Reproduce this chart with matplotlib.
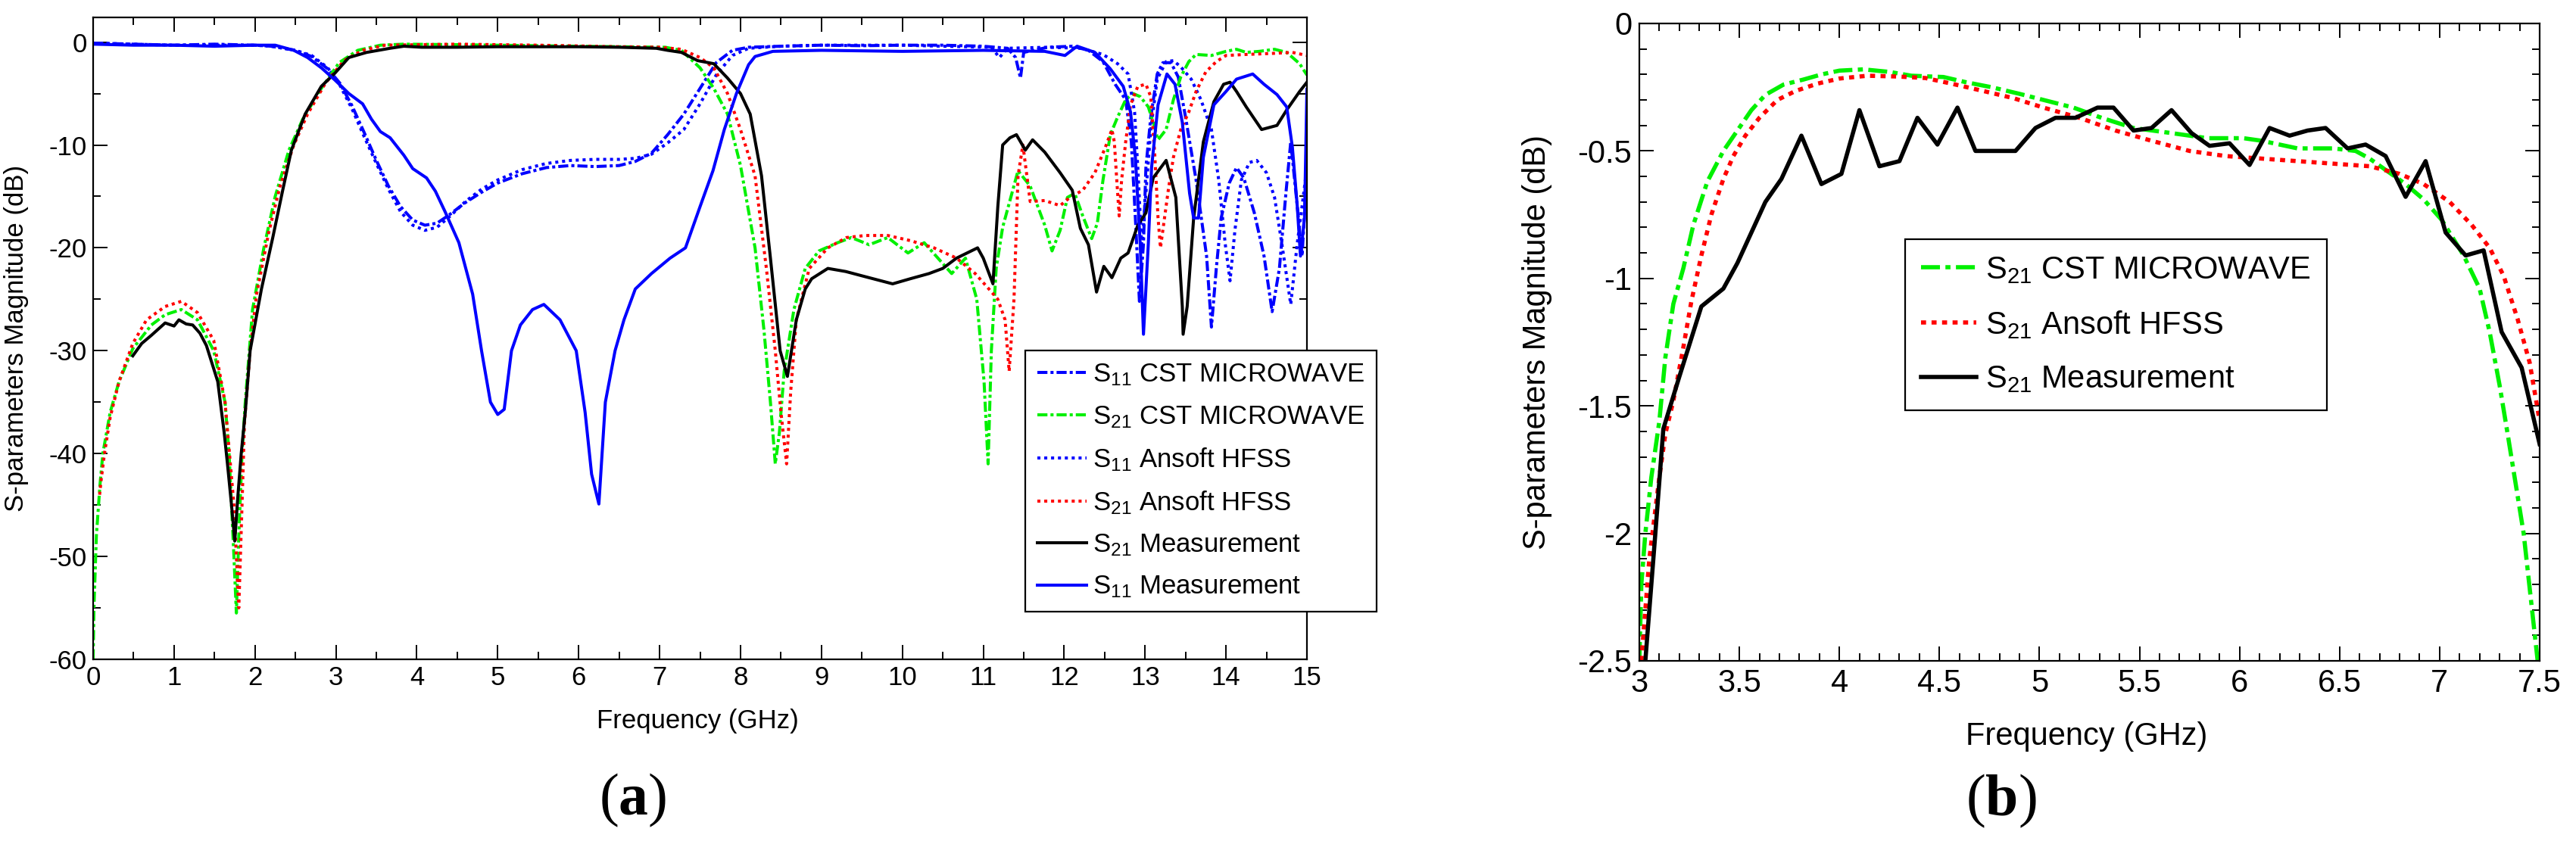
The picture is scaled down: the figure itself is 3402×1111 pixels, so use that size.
import numpy as np
import matplotlib
matplotlib.use("Agg")
import matplotlib.pyplot as plt
from matplotlib.ticker import MultipleLocator, FormatStrFormatter

plt.rcParams['font.family'] = ['Liberation Sans', 'DejaVu Sans']
plt.rcParams['axes.unicode_minus'] = False
plt.rcParams['mathtext.fontset'] = 'custom'
plt.rcParams['mathtext.rm'] = 'Liberation Sans'
plt.rcParams['mathtext.bf'] = 'Liberation Serif:bold'
plt.rcParams['mathtext.default'] = 'regular'

# ---------------- Panel (a) data ----------------
s11_cst_f = [0.0, 0.5, 1.0, 1.5, 2.0, 2.2, 2.5, 2.7, 2.9, 3.05, 3.2, 3.35, 3.5, 3.65, 3.8, 3.95, 4.1, 4.25,
             4.4, 4.6, 4.8, 5.0, 5.3, 5.6, 5.9, 6.2, 6.5, 6.7, 6.9, 7.1, 7.3, 7.5, 7.7, 7.9, 8.1, 8.5, 9.0,
             9.5, 10.0, 10.5, 11.0, 11.3, 11.4, 11.46, 11.5, 11.8, 12.1, 12.3, 12.48, 12.63, 12.76, 12.83,
             12.88, 12.93, 12.98, 13.01, 13.07, 13.15, 13.22, 13.32, 13.41, 13.5, 13.63, 13.76, 13.82, 13.88,
             13.94, 14.04, 14.13, 14.22, 14.35, 14.47, 14.57, 14.66, 14.74, 14.8, 14.88, 14.94, 15.0]
s11_cst_db = [-0.1, -0.2, -0.3, -0.2, -0.3, -0.4, -0.8, -1.4, -2.6, -4.0, -6.2, -8.8, -11.5, -14.0, -16.0,
              -17.3, -17.8, -17.6, -16.8, -15.6, -14.6, -13.7, -12.8, -12.2, -12.0, -12.1, -12.0, -11.6,
              -10.8, -9.0, -7.0, -4.5, -2.0, -0.8, -0.5, -0.4, -0.3, -0.35, -0.3, -0.3, -0.4, -0.6, -1.5,
              -3.5, -1.0, -0.5, -0.4, -0.8, -1.9, -4.1, -5.6, -9.7, -17.1, -25.2, -19.6, -12.2, -7.3, -3.1,
              -2.0, -2.0, -3.4, -7.3, -13.4, -20.8, -27.7, -22.0, -17.1, -13.7, -12.2, -13.2, -16.6, -20.8,
              -26.2, -22.0, -14.7, -9.7, -15.9, -20.8, -12.2]

s11_hfss_f = [0.0, 0.5, 1.0, 1.5, 2.0, 2.2, 2.5, 2.7, 2.9, 3.05, 3.2, 3.35, 3.5, 3.65, 3.8, 3.95, 4.1, 4.25,
              4.4, 4.6, 4.8, 5.0, 5.3, 5.6, 5.9, 6.2, 6.5, 6.7, 6.9, 7.1, 7.3, 7.5, 7.7, 7.9, 8.1, 8.5, 9.0,
              9.5, 10.0, 10.5, 11.1, 11.2, 11.3, 11.8, 12.2, 12.48, 12.66, 12.79, 12.87, 12.91, 12.96, 13.01,
              13.07, 13.15, 13.26, 13.35, 13.44, 13.57, 13.69, 13.82, 13.91, 13.99, 14.05, 14.11, 14.19,
              14.29, 14.38, 14.5, 14.6, 14.69, 14.8, 14.88, 14.96, 15.0]
s11_hfss_db = [-0.1, -0.2, -0.3, -0.3, -0.3, -0.4, -0.8, -1.3, -2.5, -4.2, -6.5, -9.2, -11.8, -14.3, -16.5,
               -17.8, -18.3, -18.0, -17.0, -15.5, -14.3, -13.4, -12.4, -11.8, -11.5, -11.4, -11.4, -11.3,
               -10.9, -9.8, -8.5, -6.0, -3.2, -1.3, -0.6, -0.4, -0.3, -0.3, -0.3, -0.4, -0.5, -1.5, -0.6,
               -0.5, -0.6, -1.2, -2.1, -3.1, -6.8, -12.2, -20.0, -14.7, -8.5, -3.6, -1.9, -1.8, -2.4, -3.6,
               -5.6, -8.5, -13.4, -19.6, -23.2, -18.3, -13.4, -11.7, -11.5, -12.7, -15.1, -19.6, -25.5,
               -19.6, -14.7, -12.2]

s21_cst_f = [0.0, 0.01, 0.04, 0.085, 0.12, 0.21, 0.32, 0.49, 0.72, 0.89, 1.09, 1.29, 1.49, 1.63, 1.68, 1.74,
             1.77, 1.8, 1.84, 1.88, 1.97, 2.11, 2.25, 2.42, 2.59, 2.82, 3.04, 3.27, 3.55, 3.84, 4.5, 5.5,
             6.5, 7.07, 7.27, 7.5, 7.67, 7.84, 8.0, 8.18, 8.29, 8.37, 8.43, 8.48, 8.54, 8.66, 8.8, 8.97,
             9.2, 9.37, 9.59, 9.82, 10.07, 10.27, 10.44, 10.61, 10.78, 10.92, 11.01, 11.06, 11.1, 11.16,
             11.24, 11.43, 11.58, 11.76, 11.85, 11.95, 12.04, 12.13, 12.23, 12.34, 12.41, 12.48, 12.57,
             12.66, 12.76, 12.85, 12.94, 13.04, 13.1, 13.16, 13.26, 13.35, 13.44, 13.54, 13.63, 13.82,
             14.0, 14.13, 14.25, 14.41, 14.6, 14.75, 14.91, 15.0]
s21_cst_db = [-60, -55, -48, -43, -40, -36, -33, -29.8, -27.5, -26.5, -26, -27, -30, -35, -40, -50, -55.5,
              -48, -40, -35, -26, -20, -15, -10.5, -7.5, -4.5, -2.0, -0.8, -0.3, -0.2, -0.25, -0.35,
              -0.45, -0.5, -0.8, -2.5, -4.5, -7, -12, -20, -28, -35, -41, -38, -32, -26, -22, -20.3, -19.5,
              -19, -19.7, -19, -20.5, -19.5, -21, -22.5, -21, -25, -33, -41, -30, -22, -18, -12.5, -14,
              -17.8, -20.3, -18.3, -15.1, -14.7, -16.9, -19.1, -17.6, -13.4, -9.0, -7.3, -5.6, -5.0, -5.3,
              -6.3, -7.8, -9.5, -8.5, -5.6, -3.4, -1.9, -1.2, -1.3, -0.9, -0.7, -1.0, -0.9, -0.7, -1.0,
              -2.1, -3.2]

s21_hfss_f = [0.08, 0.1, 0.14, 0.21, 0.32, 0.49, 0.66, 0.89, 1.09, 1.29, 1.49, 1.63, 1.74, 1.8, 1.84, 1.87,
              1.94, 2.02, 2.17, 2.31, 2.48, 2.65, 2.87, 3.1, 3.33, 3.61, 4.5, 5.5, 6.5, 7.0, 7.27, 7.5,
              7.67, 7.84, 8.0, 8.18, 8.32, 8.43, 8.5, 8.57, 8.62, 8.69, 8.85, 9.08, 9.31, 9.54, 9.82, 10.1,
              10.39, 10.67, 10.9, 11.07, 11.18, 11.27, 11.32, 11.38, 11.43, 11.49, 11.58, 11.76, 11.95,
              12.07, 12.23, 12.38, 12.51, 12.59, 12.62, 12.65, 12.68, 12.71, 12.76, 12.82, 12.91, 13.01,
              13.07, 13.12, 13.16, 13.19, 13.24, 13.29, 13.35, 13.44, 13.54, 13.63, 13.75, 13.88, 14.0,
              14.25, 14.57, 14.82, 15.0]
s21_hfss_db = [-44, -42.5, -40, -36.5, -33, -29.3, -27, -25.7, -25.2, -26.3, -29, -35, -45, -55, -45, -37,
               -30, -24.5, -18.5, -14, -10, -7, -4, -1.8, -0.8, -0.3, -0.2, -0.3, -0.45, -0.5, -0.7, -1.5,
               -2.5, -5, -8.5, -13, -22, -30, -36, -41, -34, -27, -22, -20, -19, -18.8, -18.8, -19.3, -20,
               -21, -22.5, -24, -25, -27, -32, -25, -13, -10, -15.5, -15.4, -15.9, -15.1, -14.4, -12.7,
               -10.2, -8.5, -9.7, -13.4, -16.9, -13.4, -9.7, -6.1, -4.3, -4.1, -5.3, -11, -17.1, -20,
               -17.1, -14.2, -11.2, -8.5, -6.8, -4.8, -2.9, -1.9, -1.3, -1.2, -1.1, -1.0, -1.3]

s21_meas_f = [0.49, 0.6, 0.72, 0.89, 1.0, 1.06, 1.15, 1.23, 1.32, 1.4, 1.54, 1.62, 1.66, 1.71, 1.75, 1.79,
              1.83, 1.88, 1.94, 2.08, 2.22, 2.34, 2.45, 2.62, 2.82, 2.99, 3.16, 3.38, 3.67, 3.84, 4.06, 4.5,
              5.0, 5.5, 6.0, 6.5, 6.96, 7.1, 7.27, 7.47, 7.67, 7.84, 8.0, 8.12, 8.26, 8.37, 8.49, 8.58,
              8.69, 8.8, 8.88, 9.08, 9.3, 9.54, 9.88, 10.1, 10.33, 10.5, 10.67, 10.8, 10.93, 11.0, 11.12,
              11.18, 11.24, 11.33, 11.41, 11.52, 11.61, 11.76, 11.95, 12.1, 12.2, 12.3, 12.4, 12.49, 12.59,
              12.7, 12.79, 12.91, 13.01, 13.1, 13.26, 13.38, 13.46, 13.47, 13.52, 13.6, 13.72, 13.85,
              13.97, 14.05, 14.13, 14.25, 14.44, 14.63, 14.75, 14.91, 15.0]
s21_meas_db = [-30.5, -29.3, -28.5, -27.3, -27.6, -27.0, -27.4, -27.5, -28.3, -29.5, -33, -38, -41, -45,
               -48.5, -44, -40, -36, -30, -24, -19, -14.5, -10.5, -7, -4.3, -3, -1.5, -1.0, -0.6, -0.4,
               -0.5, -0.5, -0.45, -0.45, -0.45, -0.5, -0.6, -0.8, -1.0, -1.8, -2.1, -3.5, -5.0, -7, -13,
               -21, -30, -32.5, -27, -24, -23, -22, -22.3, -22.8, -23.5, -23.0, -22.5, -22.0, -21, -20.5,
               -20, -21, -23.5, -16, -10, -9.3, -9, -10.5, -9.5, -10.7, -12.7, -14.4, -18.1, -19.7, -24.3,
               -21.8, -22.9, -21.0, -20.5, -17.8, -16.6, -13.2, -11.5, -15.1, -25.7, -28.4, -25.7, -17.1,
               -9.7, -5.8, -4.1, -3.9, -4.8, -6.3, -8.5, -8.1, -6.6, -4.8, -3.9]

s11_meas_f = [0.0, 0.5, 1.0, 1.5, 2.0, 2.25, 2.48, 2.65, 2.82, 2.99, 3.16, 3.33, 3.44, 3.55, 3.67, 3.84,
              3.95, 4.12, 4.23, 4.35, 4.52, 4.69, 4.8, 4.91, 5.0, 5.08, 5.17, 5.28, 5.43, 5.57, 5.77, 5.97,
              6.08, 6.16, 6.25, 6.33, 6.45, 6.56, 6.7, 6.9, 7.13, 7.32, 7.5, 7.66, 7.8, 7.95, 8.1, 8.18,
              8.4, 9.0, 10.0, 11.0, 11.76, 12.01, 12.16, 12.38, 12.57, 12.73, 12.82, 12.88, 12.94, 12.98,
              13.04, 13.08, 13.16, 13.27, 13.37, 13.46, 13.55, 13.6, 13.66, 13.72, 13.85, 14.0, 14.13,
              14.33, 14.47, 14.63, 14.75, 14.82, 14.88, 14.92, 14.97, 15.0]
s11_meas_db = [-0.2, -0.3, -0.3, -0.4, -0.3, -0.3, -0.8, -1.5, -2.5, -3.7, -5, -6, -7.5, -8.7, -9.3, -11,
               -12.3, -13.2, -14.5, -16.5, -19.5, -24.5, -30, -35, -36.2, -35.7, -30, -27.5, -26, -25.5,
               -27, -30, -36, -42, -44.9, -35, -30, -27, -24, -22.5, -21, -20, -16, -12.5, -8.5, -5, -2.2,
               -1.4, -0.9, -0.8, -0.9, -0.8, -0.9, -1.3, -0.4, -1.0, -2.6, -4.3, -6.8, -11.2, -19.6,
               -28.4, -19.6, -12.2, -6.1, -3.1, -4.1, -7.8, -14.7, -17.1, -17.1, -11.2, -6.1, -4.8, -3.6,
               -3.1, -4.1, -5.1, -6.3, -10.2, -15.9, -20.8, -17.1, -4.6]

labels_a = [r'S$_{11}$ CST MICROWAVE', r'S$_{21}$ CST MICROWAVE', r'S$_{11}$ Ansoft HFSS',
            r'S$_{21}$ Ansoft HFSS', r'S$_{21}$ Measurement', r'S$_{11}$ Measurement']

# ---------------- Panel (b) data ----------------
b_cst_f = [3.0, 3.01, 3.03, 3.06, 3.1, 3.13, 3.17, 3.22, 3.27, 3.34, 3.42, 3.49, 3.56, 3.63, 3.72, 3.82,
           3.91, 4.0, 4.12, 4.25, 4.36, 4.52, 4.63, 4.76, 4.9, 5.02, 5.17, 5.31, 5.47, 5.66, 5.84, 6.02,
           6.11, 6.29, 6.47, 6.58, 6.65, 6.74, 6.83, 6.92, 7.01, 7.12, 7.2, 7.25, 7.3, 7.34, 7.42, 7.49]
b_cst_db = [-2.5, -2.2, -2.0, -1.78, -1.56, -1.31, -1.10, -0.96, -0.79, -0.62, -0.50, -0.42, -0.34, -0.28,
            -0.24, -0.22, -0.20, -0.185, -0.18, -0.19, -0.205, -0.21, -0.23, -0.25, -0.276, -0.30, -0.33,
            -0.37, -0.41, -0.43, -0.45, -0.45, -0.46, -0.49, -0.49, -0.50, -0.53, -0.58, -0.63, -0.69,
            -0.77, -0.91, -1.04, -1.21, -1.42, -1.61, -2.0, -2.5]

b_hfss_f = [3.01, 3.05, 3.1, 3.13, 3.17, 3.22, 3.26, 3.31, 3.36, 3.42, 3.47, 3.53, 3.6, 3.69, 3.78, 3.89,
            4.0, 4.14, 4.29, 4.43, 4.56, 4.72, 4.87, 5.02, 5.2, 5.38, 5.56, 5.75, 5.93, 6.11, 6.29, 6.47,
            6.65, 6.8, 6.92, 7.05, 7.16, 7.25, 7.32, 7.39, 7.45, 7.5]
b_hfss_db = [-2.5, -2.1, -1.78, -1.61, -1.48, -1.27, -1.09, -0.91, -0.75, -0.61, -0.52, -0.44, -0.37,
             -0.30, -0.265, -0.236, -0.216, -0.205, -0.208, -0.214, -0.236, -0.265, -0.293, -0.33, -0.37,
             -0.42, -0.46, -0.50, -0.52, -0.53, -0.54, -0.55, -0.56, -0.59, -0.63, -0.70, -0.79, -0.88,
             -0.99, -1.16, -1.33, -1.56]

b_meas_f = [3.03, 3.08, 3.12, 3.2, 3.31, 3.42, 3.49, 3.56, 3.63, 3.71, 3.81, 3.91, 4.01, 4.10, 4.20, 4.30,
            4.39, 4.49, 4.59, 4.68, 4.88, 4.98, 5.08, 5.18, 5.29, 5.37, 5.47, 5.56, 5.66, 5.76, 5.85, 5.95,
            6.05, 6.15, 6.25, 6.34, 6.43, 6.54, 6.63, 6.73, 6.83, 6.93, 7.03, 7.13, 7.22, 7.31, 7.41, 7.5]
b_meas_db = [-2.5, -2.0, -1.59, -1.385, -1.11, -1.04, -0.94, -0.82, -0.70, -0.61, -0.44, -0.63, -0.59,
             -0.34, -0.56, -0.54, -0.37, -0.475, -0.33, -0.50, -0.50, -0.41, -0.37, -0.37, -0.33, -0.33,
             -0.42, -0.41, -0.34, -0.43, -0.48, -0.47, -0.555, -0.41, -0.44, -0.42, -0.41, -0.49, -0.475,
             -0.52, -0.68, -0.54, -0.82, -0.91, -0.89, -1.21, -1.35, -1.65]

labels_b = [r'S$_{21}$ CST MICROWAVE', r'S$_{21}$ Ansoft HFSS', r'S$_{21}$ Measurement']

BLUE, GREEN, RED, BLACK = '#0000ff', '#00f000', '#ff0000', '#000000'

W, H = 3402, 1111
fig = plt.figure(figsize=(W / 100, H / 100), dpi=100)


def px_rect(x0, x1, ytop, ybot):
    return [x0 / W, 1 - ybot / H, (x1 - x0) / W, (ybot - ytop) / H]


def style_axes(ax, fs, maj_len, min_len, pad):
    for s in ax.spines.values():
        s.set_linewidth(1.6)
    ax.tick_params(which='both', direction='in', top=True, right=True, width=1.4,
                   labelsize=fs, pad=pad)
    ax.tick_params(which='major', length=maj_len)
    ax.tick_params(which='minor', length=min_len)


# ---------------- Panel (a) ----------------
axa = fig.add_axes(px_rect(123, 1726, 23, 871))
lw = 2.9
dashdot = (0, (3.3, 1.0, 1.0, 1.0))
dotted = (0, (1.0, 1.25))
axa.plot(s11_cst_f, s11_cst_db, color=BLUE, lw=lw, ls=dashdot, label=labels_a[0])
axa.plot(s21_cst_f, s21_cst_db, color=GREEN, lw=lw, ls=dashdot, label=labels_a[1])
axa.plot(s11_hfss_f, s11_hfss_db, color=BLUE, lw=lw, ls=dotted, label=labels_a[2])
axa.plot(s21_hfss_f, s21_hfss_db, color=RED, lw=lw, ls=dotted, label=labels_a[3])
axa.plot(s21_meas_f, s21_meas_db, color=BLACK, lw=lw, ls='-', label=labels_a[4])
axa.plot(s11_meas_f, s11_meas_db, color=BLUE, lw=lw, ls='-', label=labels_a[5])
axa.set_xlim(0, 15)
axa.set_ylim(-60, 2.4)
axa.xaxis.set_major_locator(MultipleLocator(1))
axa.xaxis.set_minor_locator(MultipleLocator(0.5))
axa.yaxis.set_major_locator(MultipleLocator(10))
axa.yaxis.set_minor_locator(MultipleLocator(5))
style_axes(axa, 25, 14, 7, 6)
axa.set_xlabel('Frequency (GHz)', fontsize=25)
axa.set_ylabel('S-parameters Magnitude (dB)', fontsize=25)
axa.xaxis.set_label_coords(0.498, -0.077)
axa.yaxis.set_label_coords(-0.053, 0.5)
leg = axa.legend(loc='upper left', bbox_to_anchor=(1354 / W, 1 - 463 / H),
                 bbox_transform=fig.transFigure, fontsize=25, frameon=True, fancybox=False,
                 framealpha=1, edgecolor='black', handlelength=1.87, handletextpad=0.25,
                 labelspacing=0.62, borderpad=0.45, borderaxespad=0)
leg.get_frame().set_linewidth(1.6)

# ---------------- Panel (b) ----------------
axb = fig.add_axes(px_rect(2165, 3354, 31, 873))
lwb = 4.0
axb.plot(b_cst_f, b_cst_db, color=GREEN, lw=lwb, ls=(0, (4.5, 1.3, 1.2, 1.3)), label=labels_b[0])
axb.plot(b_hfss_f, b_hfss_db, color=RED, lw=lwb, ls=(0, (1.2, 1.3)), label=labels_b[1])
axb.plot(b_meas_f, b_meas_db, color=BLACK, lw=lwb, ls='-', label=labels_b[2])
axb.set_xlim(3, 7.5)
axb.set_ylim(-2.5, 0)
axb.xaxis.set_major_locator(MultipleLocator(0.5))
axb.xaxis.set_minor_locator(MultipleLocator(0.1))
axb.yaxis.set_major_locator(MultipleLocator(0.5))
axb.yaxis.set_minor_locator(MultipleLocator(0.1))
axb.xaxis.set_major_formatter(FormatStrFormatter('%g'))
axb.yaxis.set_major_formatter(FormatStrFormatter('%g'))
style_axes(axb, 30, 14, 7, 7)
axb.set_xlabel('Frequency (GHz)', fontsize=30)
axb.set_ylabel('S-parameters Magnitude (dB)', fontsize=30)
axb.xaxis.set_label_coords(0.497, -0.0945)
axb.yaxis.set_label_coords(-0.097, 0.5)
legb = axb.legend(loc='upper left', bbox_to_anchor=(2516 / W, 1 - 316 / H),
                  bbox_transform=fig.transFigure, fontsize=30, frameon=True, fancybox=False,
                  framealpha=1, edgecolor='black', handlelength=1.75, handletextpad=0.3,
                  labelspacing=0.75, borderpad=0.5, borderaxespad=0)
legb.get_frame().set_linewidth(1.6)

# ---------------- Panel labels ----------------
fig.text(836 / W, 1 - 1057 / H, r'($\mathbf{a}$)', fontsize=56, family='Liberation Serif',
         ha='center', va='center')
fig.text(2643 / W, 1 - 1058 / H, r'($\mathbf{b}$)', fontsize=56, family='Liberation Serif',
         ha='center', va='center')

fig.savefig('out.png', dpi=100)
